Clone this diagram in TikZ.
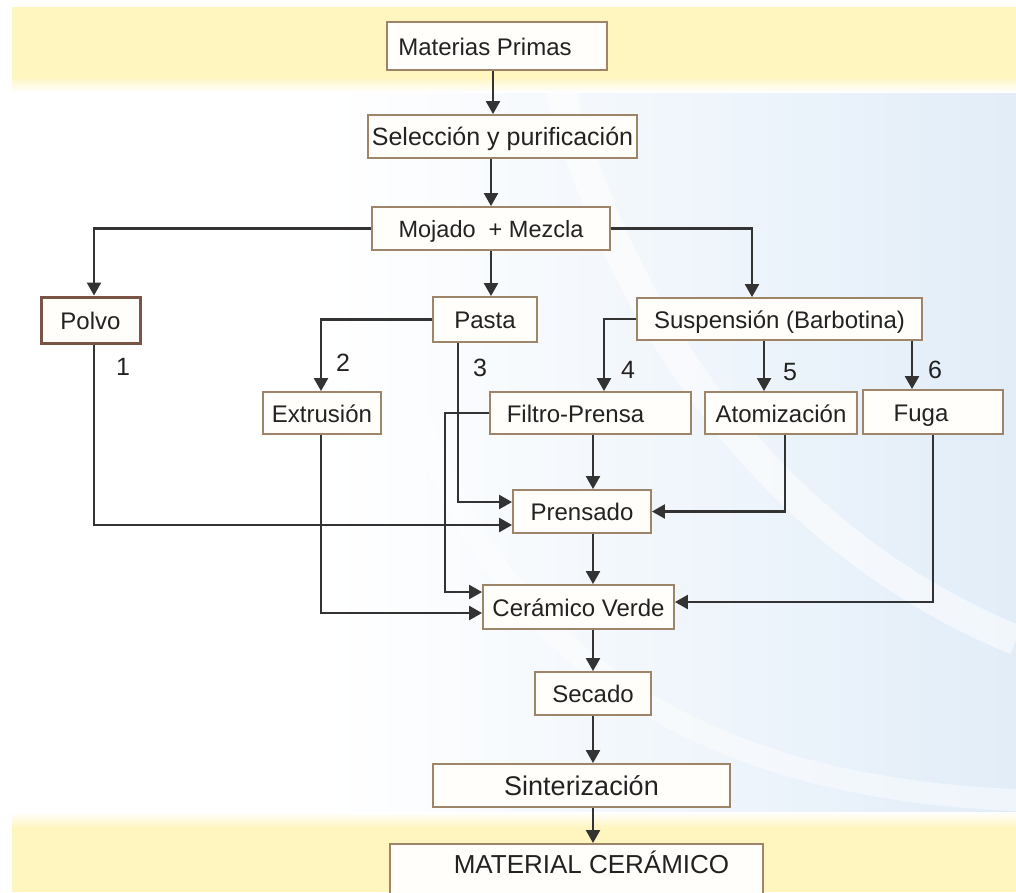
\documentclass[tikz,border=0pt]{standalone}
\usepackage{fontspec}
\setmainfont{Liberation Sans}
\usetikzlibrary{arrows.meta,calc}
\definecolor{bandy}{HTML}{FFF5BF}
\definecolor{bgblue}{HTML}{E2EDF8}
\definecolor{boxc}{HTML}{9E8468}
\definecolor{boxfill}{HTML}{FFFEFA}
\definecolor{polvoc}{HTML}{7A5545}
\definecolor{linec}{HTML}{333333}
\definecolor{txt}{HTML}{222222}
\tikzset{
  box/.style={draw=boxc, line width=1.9pt, fill=boxfill, inner sep=0pt, text=txt,
    font=\fontsize{24pt}{28pt}\selectfont, text height=20pt, text depth=2pt},
  arr/.style={draw=linec, line width=2.4pt, -{Triangle[length=13pt,width=14pt]}},
  num/.style={text=txt, inner sep=0pt, font=\fontsize{25pt}{28pt}\selectfont}
}
\begin{document}
\begin{tikzpicture}[x=1pt,y=-1pt]
\clip (0,0) rectangle (1016,892);
% background
\fill[white] (0,0) rectangle (1016,892);
\shade[left color=white, right color=bgblue] (330,90) rectangle (1016,815);
\draw[white, line width=30pt, opacity=0.55] (560,90) .. controls (640,380) and (820,560) .. (1016,640);
\draw[white, line width=22pt, opacity=0.45] (420,420) .. controls (520,700) and (760,790) .. (1016,800);
\fill[bandy] (12,7) rectangle (1016,77);
\shade[top color=bandy, bottom color=white] (12,77) rectangle (1016,92);
\shade[top color=white, bottom color=bandy] (12,812) rectangle (1016,828);
\fill[bandy] (12,828) rectangle (1016,892);
% nodes
\node[box, minimum width=220pt, minimum height=48pt] (mp) at (497,46) {\hspace*{-24pt}Materias Primas};
\node[box, minimum width=269pt, minimum height=43pt, font=\fontsize{25pt}{28pt}\selectfont] (sel) at (502.5,136.5) {Selección y purificación};
\node[box, minimum width=238pt, minimum height=43pt, font=\fontsize{23.5pt}{28pt}\selectfont] (moj) at (491,228.5) {Mojado\ \ + Mezcla};
\node[box, draw=polvoc, line width=3pt, minimum width=99pt, minimum height=46pt] (polvo) at (90.5,320) {Polvo};
\node[box, minimum width=104pt, minimum height=45pt] (pasta) at (485,319.5) {Pasta};
\node[box, minimum width=285pt, minimum height=42pt] (susp) at (779.5,319) {Suspensión (Barbotina)};
\node[box, minimum width=118pt, minimum height=42pt] (extr) at (322,413) {Extrusión};
\node[box, minimum width=201pt, minimum height=42pt] (filtro) at (590.5,413) {\hspace*{-30pt}Filtro-Prensa};
\node[box, minimum width=152pt, minimum height=42pt] (atom) at (781,413) {Atomización};
\node[box, minimum width=140pt, minimum height=44pt] (fuga) at (933,412) {\hspace*{-24pt}Fuga};
\node[box, minimum width=138pt, minimum height=43pt] (prens) at (582,511.5) {Prensado};
\node[box, minimum width=191pt, minimum height=44pt] (cv) at (578.5,607) {Cerámico Verde};
\node[box, minimum width=116pt, minimum height=43pt] (sec) at (593,693.5) {Secado};
\node[box, minimum width=297pt, minimum height=43pt, font=\fontsize{27pt}{30pt}\selectfont, text height=21pt] (sint) at (581.5,785.5) {Sinterización};
\node[box, anchor=north, minimum width=373pt, font=\fontsize{26pt}{30pt}\selectfont, text height=30pt, text depth=30pt] (mat) at (576.5,843) {\hspace*{30pt}MATERIAL CERÁMICO};
% numbers
\node[num] (n1) at (123,367) {1};
\node[num] (n2) at (343,363) {2};
\node[num] (n3) at (480,368) {3};
\node[num] (n4) at (628,370) {4};
\node[num] (n5) at (790,372) {5};
\node[num] (n6) at (935,370) {6};
% connectors
\draw[arr] ([xshift=-4pt]mp.south) -- ([xshift=-4pt]mp.south |- sel.north);
\draw[arr] (moj.north |- sel.south) -- (moj.north);
\draw[arr] (moj.south) -- (moj.south |- pasta.north);
\draw[arr] (moj.west) -| ([xshift=3.5pt]polvo.north);
\draw[arr] (moj.east) -| ([xshift=-27.5pt]susp.north);
\draw[arr] (pasta.west) -| ([xshift=-1pt]extr.north);
\draw[arr] ([xshift=-27pt]pasta.south) |- ([yshift=9.5pt]prens.west);
\draw[arr] (susp.west) -| ([xshift=13.5pt]filtro.north);
\draw[arr] ([xshift=-17pt]atom.north |- susp.south) -- ([xshift=-17pt]atom.north);
\draw[arr] ([xshift=-21pt]fuga.north |- susp.south) -- ([xshift=-21pt]fuga.north);
\draw[arr] ([xshift=3.5pt]polvo.south) |- ([yshift=-13.5pt]prens.west);
\draw[arr] ([xshift=2.5pt]filtro.south) -- ([xshift=2.5pt]filtro.south |- prens.north);
\draw[arr] ([xshift=4pt]atom.south) |- (prens.east);
\draw[arr] ([xshift=11pt]prens.south) -- ([xshift=11pt]prens.south |- cv.north);
\draw[arr] (filtro.west) -- ++(-44,0) |- ([yshift=15pt]cv.west);
\draw[arr] ([xshift=-1pt]extr.south) |- ([yshift=-6pt]cv.west);
\draw[arr] (fuga.south) |- ([yshift=5pt]cv.east);
\draw[arr] (sec.north |- cv.south) -- (sec.north);
\draw[arr] (sec.south) -- (sec.south |- sint.north);
\draw[arr] (sec.south |- sint.south) -- (sec.south |- mat.north);
\end{tikzpicture}
\end{document}
